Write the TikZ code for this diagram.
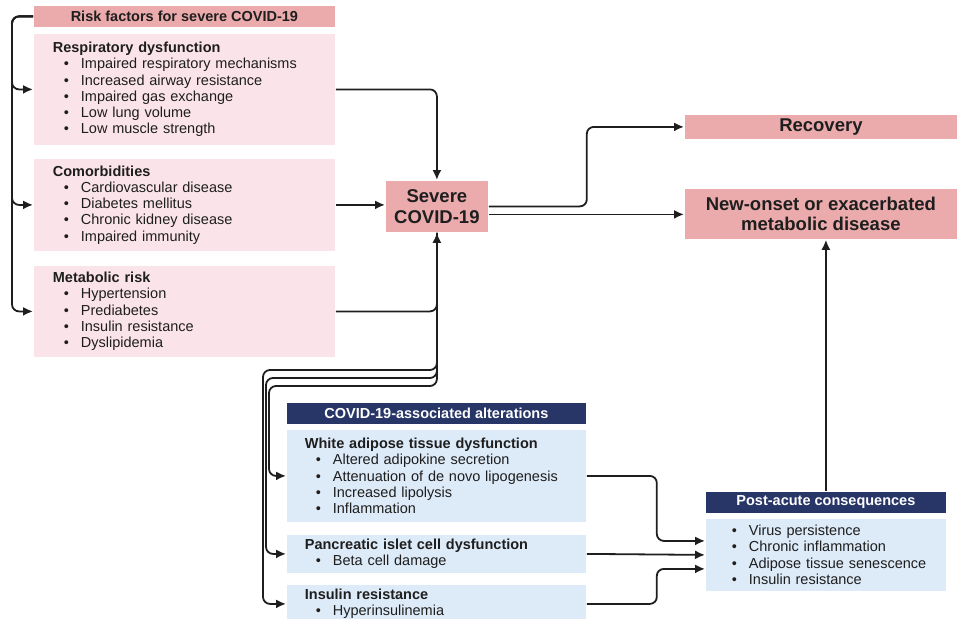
\documentclass[tikz,border=0pt]{standalone}
\usepackage{fontspec}
\setmainfont{Liberation Sans}
\usepackage{tikz}
\usetikzlibrary{arrows.meta}
\definecolor{salmon}{RGB}{235,171,172}
\definecolor{pinkfill}{RGB}{251,228,233}
\definecolor{navy}{RGB}{39,53,103}
\definecolor{bluefill}{RGB}{221,234,248}
\definecolor{ink}{RGB}{30,30,30}
\newcommand{\itm}[1]{\makebox[28pt][l]{\hspace*{11pt}\textbullet}#1}
\tikzset{
x=1pt, y=-1pt, % one unit is one pixel of the layout, y runs down
link/.style={rounded corners=7pt}, % the elbow connectors
redbar/.style={fill=salmon, anchor=north west, inner sep=0pt, font=\bfseries\fontsize{14.5}{16}\selectfont},
bluebar/.style={fill=navy, text=white, anchor=north west, inner sep=0pt, font=\bfseries\fontsize{14.5}{16}\selectfont},
pinkbox/.style={fill=pinkfill, anchor=north west, inner xsep=19pt, inner ysep=0pt, align=left, minimum width=301, text width=263, font=\fontsize{14.5}{16.2}\selectfont},
bluebox/.style={fill=bluefill, anchor=north west, inner xsep=18pt, inner ysep=0pt, align=left, minimum width=299, text width=263, font=\fontsize{14.5}{16.2}\selectfont},
outcome/.style={fill=salmon, anchor=north west, inner sep=0pt, align=center, font=\bfseries\fontsize{18.5}{20.5}\selectfont},
}
\begin{document}
\begin{tikzpicture}[
	-{Latex[length=10pt,width=9pt]}, % makes the connectors directed
	line width=1.8pt, color=ink]
	\useasboundingbox (0,0) rectangle (957,618);
	% risk factors
	\node[redbar, minimum width=301, minimum height=21] (risk) at (33,5) {Risk factors for severe COVID-19};
	\node[pinkbox, minimum height=111] (resp) at (33,33) {\textbf{Respiratory dysfunction}\\
		\itm{Impaired respiratory mechanisms}\\ \itm{Increased airway resistance}\\
		\itm{Impaired gas exchange}\\ \itm{Low lung volume}\\ \itm{Low muscle strength}};
	\node[pinkbox, minimum height=92] (comor) at (33,158) {\textbf{Comorbidities}\\
		\itm{Cardiovascular disease}\\ \itm{Diabetes mellitus}\\
		\itm{Chronic kidney disease}\\ \itm{Impaired immunity}};
	\node[pinkbox, minimum height=91] (metab) at (33,265) {\textbf{Metabolic risk}\\
		\itm{Hypertension}\\ \itm{Prediabetes}\\ \itm{Insulin resistance}\\ \itm{Dyslipidemia}};
	% outcomes
	\node[outcome, minimum width=102, minimum height=51] (severe) at (385,180) {Severe\\COVID-19};
	\node[outcome, minimum width=272, minimum height=24] (recov) at (684,114) {Recovery};
	\node[outcome, minimum width=272, minimum height=50] (newon) at (684,188) {New-onset or exacerbated\\metabolic disease};
	% alterations
	\node[bluebar, minimum width=299, minimum height=21] (alt) at (286,402) {COVID-19-associated alterations};
	\node[bluebox, minimum height=92] (wat) at (286,429) {\textbf{White adipose tissue dysfunction}\\
		\itm{Altered adipokine secretion}\\ \itm{Attenuation of de novo lipogenesis}\\
		\itm{Increased lipolysis}\\ \itm{Inflammation}};
	\node[bluebox, minimum height=38] (panc) at (286,534) {\textbf{Pancreatic islet cell dysfunction}\\
		\itm{Beta cell damage}};
	\node[bluebox, minimum height=38] (ins) at (286,584) {\textbf{Insulin resistance}\\
		\itm{Hyperinsulinemia}};
	\node[bluebar, minimum width=240, minimum height=21] (post) at (705,491) {Post-acute consequences};
	\node[bluebox, inner xsep=15pt, minimum width=240, text width=210, minimum height=72] (postlist) at (705,518) {%
		\itm{Virus persistence}\\ \itm{Chronic inflammation}\\
		\itm{Adipose tissue senescence}\\ \itm{Insulin resistance}};

	% bracket on the left
	\draw[link] (risk.west) -| ([xshift=-21pt]resp.west) -- (resp.west);
	\draw[link] (risk.west) -| ([xshift=-21pt]comor.west) -- (comor.west);
	\draw[link] (risk.west) -| ([xshift=-21pt]metab.west) -- (metab.west);
	% into severe COVID-19
	\draw[link] (resp.east) -| (severe.north);
	\draw (comor.east) -- (comor.east -| severe.west);
	\draw[link] (metab.east) -| (severe.south);
	% out of severe COVID-19
	\draw[link] (severe.east) -- ++(98,0) |- (recov.west);
	\draw ([yshift=-8pt]severe.east) -- ([yshift=-8pt]severe.east -| newon.west);
	\draw[link] (severe.south) |- (263,370) |- (ins.west);
	\draw[link] (severe.south) |- (266,378) |- (panc.west);
	\draw[link] (severe.south) |- (269,386) |- (wat.west);
	% into post-acute consequences
	\draw[link] (wat.east) -- ++(70,0) |- ([yshift=14pt]postlist.west);
	\draw (panc.east) -- (postlist.west);
	\draw[link] (ins.east) -- ++(70,0) |- ([yshift=-14pt]postlist.west);
	\draw (post.north) -- (post.north |- newon.south);
\end{tikzpicture}
\end{document}
